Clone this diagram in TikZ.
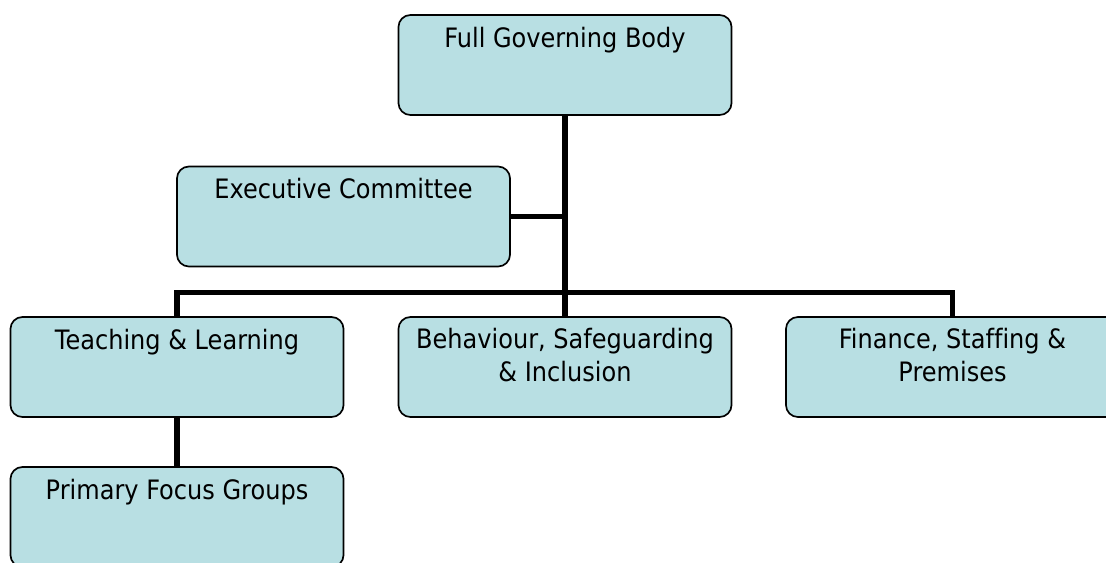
\documentclass[tikz,border=0pt]{standalone}
\usepackage{fontspec}
\setmainfont{DejaVu Sans}[FakeStretch=0.9,Ligatures=NoCommon]
\usepackage{tikz}

\definecolor{boxfill}{RGB}{184,223,227}

\begin{document}
\begin{tikzpicture}[x=0.025cm,y=-0.025cm,
    box/.style={draw,fill=boxfill,line width=1.2pt,rounded corners=0.3cm,
      minimum width=8.325cm,inner sep=0pt,align=center,
      text height=0.8cm,text depth=1.7cm,
      font=\fontsize{19}{23.5}\selectfont},
    twoline/.style={text height=1.62cm,text depth=0.88cm},
    link/.style={line width=3.6pt}]
  \useasboundingbox (0,0) rectangle (1106,562);

  \node[box] (fgb)  at (565,65)    {Full Governing Body};
  \node[box] (exec) at (343.5,216.5) {Executive Committee};
  \node[box] (tl)   at (177,367)   {Teaching \& Learning};
  \node[box,twoline] (bsi) at (565,367)   {Behaviour, Safeguarding\\\& Inclusion};
  \node[box,twoline] (fsp) at (952.5,367) {Finance, Staffing \&\\Premises};
  \node[box] (pfg)  at (177,517)   {Primary Focus Groups};

  % links between the boxes
  \draw[link] (fgb.south) -- (bsi.north);
  \draw[link] (exec.east) -- (exec.east -| fgb.south);
  \draw[link] (tl.north) -- ++(0,-24) -| (fsp.north);
  \draw[link] (tl.south) -- (pfg.north);
\end{tikzpicture}
\end{document}
